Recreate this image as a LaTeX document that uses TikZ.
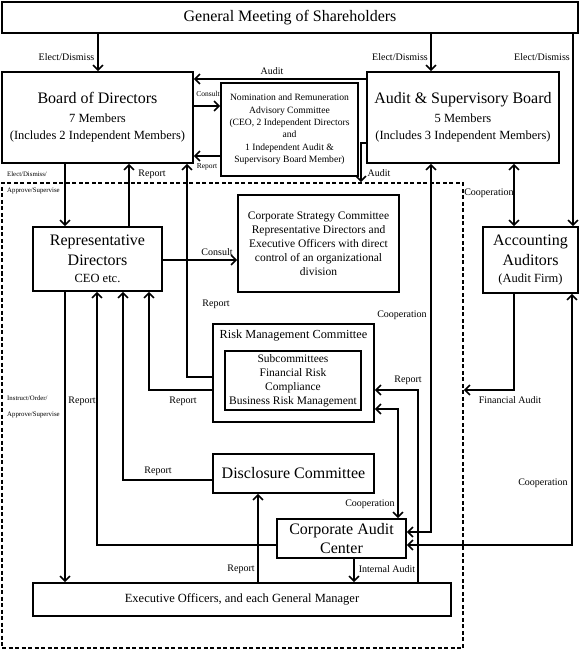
\documentclass[tikz,border=0pt]{standalone}
\usepackage{fontspec}
\setmainfont{Liberation Serif}
\usetikzlibrary{arrows.meta}

\newcommand{\txtL}{\fontsize{16}{19}\selectfont}
\newcommand{\txtM}{\fontsize{12.5}{16}\selectfont}
\newcommand{\txtS}{\fontsize{11.5}{14}\selectfont}
\newcommand{\txtN}{\fontsize{9.6}{12.4}\selectfont}
\newcommand{\txtT}{\fontsize{10}{12}\selectfont}
\newcommand{\txtX}{\fontsize{7.5}{9}\selectfont}
\newcommand{\txtXX}{\fontsize{6.8}{8}\selectfont}

\tikzset{
  barb/.tip={Straight Barb[length=5pt,width=10pt]},
  box/.style={draw, line width=1.6pt, inner sep=0pt, align=center},
  grp/.style={draw, dash pattern=on 4pt off 2.5pt, line width=1.6pt, inner sep=0pt},
  arr/.style={-barb, line width=1.6pt},
  arrs/.style={barb-barb, line width=1.6pt},
  lbl/.style={inner sep=0pt, font=\txtT},
  lbltiny/.style={inner sep=0pt, font=\txtX},
  lblmini/.style={inner sep=0pt, font=\txtXX, anchor=west}
}

\begin{document}
\begin{tikzpicture}[x=1pt,y=-1pt]
\useasboundingbox (0,0) rectangle (580,650);

% executive side
\node[grp, minimum width=461pt, minimum height=465pt] (grp) at (232.5,415.5) {};

% boxes
\node[box, minimum width=576pt, minimum height=31pt, font=\txtL] (gms) at (290,17.5) {General Meeting of Shareholders};
\node[box, minimum width=191pt, minimum height=91pt, font=\txtL] (bod) at (97.5,117.5)
  {Board of Directors\\[0pt]\txtM 7 Members\\[-2pt]\txtM (Includes 2 Independent Members)};
\node[box, minimum width=137pt, minimum height=93pt, font=\txtN] (nrac) at (289.5,129.5)
  {Nomination and Remuneration\\Advisory Committee\\(CEO, 2 Independent Directors\\and\\1 Independent Audit \&\\Supervisory Board Member)};
\node[box, minimum width=192pt, minimum height=91pt, font=\txtL] (asb) at (463,117.5)
  {Audit \& Supervisory Board\\[0pt]\txtM 5 Members\\[-2pt]\txtM (Includes 3 Independent Members)};
\node[box, minimum width=129pt, minimum height=64pt, font=\txtL] (rep) at (97.5,259)
  {Representative\\[1pt]Directors\\[-2pt]\txtM CEO etc.};
\node[box, minimum width=161pt, minimum height=97pt, font=\txtS] (csc) at (318.5,243.5)
  {Corporate Strategy Committee\\Representative Directors and\\Executive Officers with direct\\control of an organizational\\division};
\node[box, minimum width=95pt, minimum height=66pt, font=\txtL] (aa) at (530.5,260)
  {Accounting\\[1pt]Auditors\\[-2pt]\txtM (Audit Firm)};
\node[box, minimum width=161pt, minimum height=98pt] (rmc) at (293.5,373) {};
\node[inner sep=0pt, font=\fontsize{12.3}{14}\selectfont] (rmct) at (293.5,336) {Risk Management Committee};
\node[box, minimum width=136pt, minimum height=59pt, font=\txtS] (sub) at (293,380.5)
  {Subcommittees\\Financial Risk\\Compliance\\Business Risk Management};
\node[box, minimum width=161pt, minimum height=39pt, font=\txtL] (dc) at (293.5,473.5) {Disclosure Committee};
\node[box, minimum width=129pt, minimum height=39pt, font=\txtL] (cac) at (341.5,538.5) {Corporate Audit\\Center};
\node[box, minimum width=418pt, minimum height=33pt, font=\txtM] (exo) at (242,599.5) {Executive Officers, and each General Manager};

% arrows
\draw[arr] (gms.south -| 98,0) -- (bod.north -| 98,0);
\draw[arr] (gms.south -| 431,0) -- (asb.north -| 431,0);
\draw[arr] (gms.south -| 573,0) -- (aa.north -| 573,0);
\draw[arr] (asb.west |- 0,79) -- (bod.east |- 0,79);
\draw[arr] (bod.east |- 0,106) -- (nrac.west |- 0,106);
\draw[arr] (nrac.west |- 0,156) -- (bod.east |- 0,156);
\draw[arr] (asb.west |- 0,143) -| (grp.north -| 361,0);
\draw[arr] (bod.south -| 65,0) -- (rep.north -| 65,0);
\draw[arr] (rep.north -| 129,0) -- (bod.south -| 129,0);
\draw[arr] (rmc.west |- 0,377) -| (bod.south -| 187,0);
\draw[arr] (rep.east |- 0,260) -- (csc.west |- 0,260);
\draw[arr] (rmc.west |- 0,390) -| (rep.south -| 149,0);
\draw[arr] (dc.west |- 0,480) -| (rep.south -| 123,0);
\draw[arr] (cac.west |- 0,545) -| (rep.south -| 97,0);
\draw[arr] (rep.south -| 65,0) -- (exo.north -| 65,0);
\draw[arr] (exo.north -| 258,0) -- (dc.south -| 258,0);
\draw[arr] (cac.south -| 354,0) -- (exo.north -| 354,0);
\draw[arrs] (rmc.east |- 0,409) -| (cac.north -| 398,0);
\draw[arr] (exo.north -| 418,0) |- (rmc.east |- 0,390);
\draw[arrs] (asb.south -| 431,0) |- (cac.east |- 0,532);
\draw[arrs] (asb.south -| 514,0) -- (aa.north -| 514,0);
\draw[arr] (aa.south -| 514,0) |- (grp.east |- 0,390);
\draw[arrs] (aa.south -| 572,0) |- (cac.east |- 0,545);

% labels
\node[lbl] (ed1) at (66.5,57) {Elect/Dismiss};
\node[lbl] (ed2) at (400,57) {Elect/Dismiss};
\node[lbl] (ed3) at (542,57) {Elect/Dismiss};
\node[lbl] (au1) at (272,71) {Audit};
\node[lbltiny] (co1) at (208,94) {Consult};
\node[lbltiny] (re1) at (207,167) {Report};
\node[lbl] (au2) at (379,173) {Audit};
\node[lblmini] (ed4) at (7,174) {Elect/Dismiss/};
\node[lblmini] (ap1) at (7,191) {Approve/Supervise};
\node[lbl] (re2) at (152,174) {Report};
\node[lbl] (re3) at (216,304) {Report};
\node[lbl] (co2) at (217,252) {Consult};
\node[lbl] (re4) at (82,401) {Report};
\node[lbl] (re5) at (183,401) {Report};
\node[lblmini] (in1) at (7,398) {Instruct/Order/};
\node[lblmini] (ap2) at (7,415) {Approve/Supervise};
\node[lbl] (re6) at (158,471) {Report};
\node[lbl] (re7) at (241,569) {Report};
\node[lbl] (ia1) at (387,569) {Internal Audit};
\node[lbl] (cp1) at (370,504) {Cooperation};
\node[lbl] (re8) at (408,380) {Report};
\node[lbl] (cp2) at (402,315) {Cooperation};
\node[lbl] (cp3) at (489,193) {Cooperation};
\node[lbl] (fa1) at (510,400) {Financial Audit};
\node[lbl] (cp4) at (543,483) {Cooperation};
\end{tikzpicture}
\end{document}
